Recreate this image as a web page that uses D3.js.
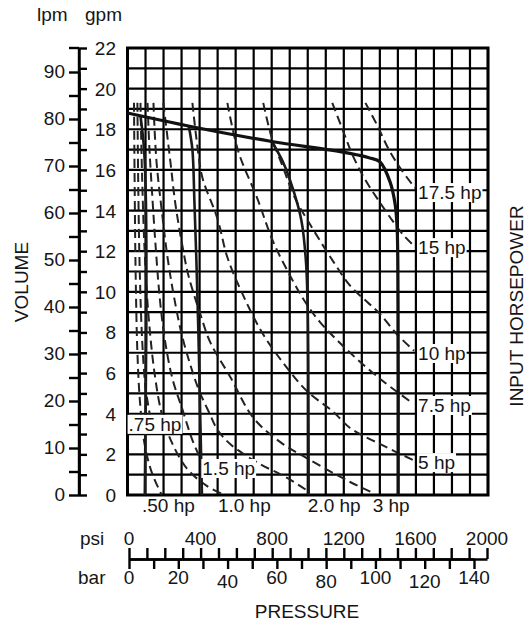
<!DOCTYPE html>
<html><head><meta charset="utf-8">
<script src="https://cdn.jsdelivr.net/npm/d3@7"></script>
<style>
body{margin:0;background:#fff}
svg{display:block}
text{font-family:"Liberation Sans",Arial,Helvetica,sans-serif;fill:#151515}
</style>
</head><body>
<svg id="chart" width="525" height="621"></svg>
<script>
// ---------- axis ticks / labels ----------
const psiTicks = d3.range(0, 2001, 100);
const psiLabels = [0, 400, 800, 1200, 1600, 2000];
const barTicks = d3.range(0, 141, 10);
const barLabels = [0, 20, 40, 60, 80, 100, 120, 140];
const gpmTicks = d3.range(0, 23, 1);
const gpmLabels = d3.range(0, 23, 2);
const lpmTicks = d3.range(0, 91, 5);
const lpmLabels = d3.range(0, 91, 10);

// ---------- solid pump curves [psi, gpm] ----------
const pumpFlow = [[0,18.8],[400,18.05],[800,17.4],[1180,16.9],[1340,16.6],[1400,16.4],[1457,15.4],[1485,14.3],[1496,13.1],[1501,9.6],[1502,0]];
const relief100 = [[72,18.7],[92,17],[102,14.5],[105,9.6],[101,4.7],[96,0]];
const relief400 = [[340,18.15],[360,17],[371,14.5],[382,11.6],[393,8.1],[404,3.7],[413,0]];
const relief1000 = [[800,17.4],[862,16.4],[920,15],[965,13.5],[990,11.5],[1000,9],[1004,4],[1005,0]];

// ---------- dashed input horsepower curves [psi, gpm] ----------
const hp050 = [[36,19.3],[40,15],[45,11],[55,7],[70,4.5],[95,2.5],[135,1.1],[190,0]];
const hp075 = [[55,19.3],[60,15],[68,11],[82,7.5],[100,5.3],[125,3.9]];
const hp100 = [[72,19.3],[80,16],[95,12],[115,9],[150,6],[190,4],[240,2.7],[330,1.3],[440,0.45],[540,0]];
const hp150 = [[111,19.3],[122,17],[139,14.5],[158,12],[180,9.6],[208,7.6],[250,5.7],[305,4.2],[360,2.7],[404,1.8]];
const hp200 = [[144,19.3],[160,16.5],[190,14],[222,11.7],[257,9.8],[301,7.9],[354,6.25],[399,5.1],[456,4.0],[500,3.2],[571,2.5],[720,1.6],[886,0.84],[1000,0.2]];
const hp300 = [[199,19.3],[238,16.4],[266,14.3],[310,12.0],[338,10.8],[404,8.9],[460,7.5],[571,5.8],[698,3.8],[848,2.6],[997,1.8],[1235,0.64],[1363,0.1]];
const hp500 = [[360,19.3],[390,17.0],[416,15.6],[499,13.6],[554,11.7],[643,9.8],[753,7.9],[886,6.25],[997,5.1],[1141,4.1],[1235,3.3],[1402,2.5],[1590,1.7]];
const hp750 = [[554,19.3],[615,16.9],[720,14.6],[809,12.45],[920,10.5],[986,9.5],[1069,8.5],[1235,7.0],[1418,5.6],[1585,4.5]];
const hp1000 = [[753,19.3],[800,17.6],[864,16.1],[930,14.6],[1014,13.3],[1141,11.5],[1235,10.3],[1330,9.5],[1402,8.9],[1496,7.9],[1590,7.1]];
const hp1500 = [[1136,19.3],[1197,17.9],[1250,16.7],[1320,15.5],[1400,14.4],[1470,13.5],[1530,12.8],[1585,12.3]];
const hp1750 = [[1320,19.3],[1385,18.2],[1450,17.0],[1520,16.0],[1596,15.1]];

// ---------- horsepower labels (anchor in data units) ----------
const hpLabelText = [".50 hp", ".75 hp", "1.0 hp", "1.5 hp", "2.0 hp", "3 hp", "5 hp", "7.5 hp", "10 hp", "15 hp", "17.5 hp"];
const hpLabelPsi  = [227, 6, 648, 415, 1147, 1463, 1612, 1612, 1612, 1612, 1612];
const hpLabelGpm  = [-0.5, 3.5, -0.5, 1.33, -0.5, -0.5, 1.62, 4.43, 6.99, 12.2, 14.91];

const svg = d3.select("#chart");
const FS = 19;

// scales
const x = d3.scaleLinear().domain([0, 2000]).range([127.5, 488]);
const y = d3.scaleLinear().domain([0, 22]).range([495, 48]);
const yl = d3.scaleLinear().domain([0, 90]).range([495, 72]);
const xPsi = d3.scaleLinear().domain([0, 2000]).range([129, 487]);
const xBar = d3.scaleLinear().domain([0, 140]).range([129, 474]);

// ---------- grid ----------
const grid = svg.append("g");
grid.selectAll("line.v").data(psiTicks).join("line")
  .attr("x1", d => x(d)).attr("x2", d => x(d))
  .attr("y1", y(0)).attr("y2", y(22))
  .attr("stroke", "#000").attr("stroke-width", 2.2);
grid.selectAll("line.h").data(gpmTicks).join("line").attr("class","h")
  .attr("x1", x(0)).attr("x2", x(2000))
  .attr("y1", d => y(d)).attr("y2", d => y(d))
  .attr("stroke", "#000").attr("stroke-width", 2.2);
grid.append("rect")
  .attr("x", x(0)).attr("y", y(22))
  .attr("width", x(2000) - x(0)).attr("height", y(0) - y(22))
  .attr("fill", "none").attr("stroke", "#000").attr("stroke-width", 3);

// ---------- curves ----------
const line = d3.line().x(d => x(d[0])).y(d => y(d[1])).curve(d3.curveCatmullRom.alpha(0.5));
const curves = svg.append("g");

[hp050, hp075, hp100, hp150, hp200, hp300, hp500, hp750, hp1000, hp1500, hp1750].forEach(c => {
  curves.append("path").attr("d", line(c))
    .attr("fill", "none").attr("stroke", "#222")
    .attr("stroke-width", 2).attr("stroke-dasharray", "9,5");
});
[relief100, relief400, relief1000].forEach(c => {
  curves.append("path").attr("d", line(c))
    .attr("fill", "none").attr("stroke", "#1a1a1a").attr("stroke-width", 2.6);
});
curves.append("path").attr("d", line(pumpFlow))
  .attr("fill", "none").attr("stroke", "#111").attr("stroke-width", 3.2);

// ---------- hp labels ----------
const lab = svg.append("g");
hpLabelText.forEach((t, i) => {
  const px = x(hpLabelPsi[i]), py = y(hpLabelGpm[i]);
  const below = hpLabelGpm[i] < 0;
  const g = lab.append("g");
  const tx = g.append("text")
    .attr("x", px).attr("y", py + 7)
    .attr("font-size", FS)
    .attr("text-anchor", below ? "middle" : "start")
    .text(t);
  const bb = tx.node().getBBox();
  if (!below) {
    g.insert("rect", "text")
      .attr("x", bb.x - 1).attr("y", bb.y + 1)
      .attr("width", bb.width + 2).attr("height", bb.height - 2)
      .attr("fill", "#fff");
  }
});

// ---------- vertical axes ----------
const ax = svg.append("g");
ax.append("g").attr("transform", "translate(79,0)")
  .call(d3.axisRight(y).tickValues(gpmTicks).tickSize(8).tickSizeOuter(0).tickFormat(""));
ax.append("g").attr("transform", "translate(79,0)")
  .call(d3.axisLeft(yl).tickValues(lpmTicks).tickSize(10).tickSizeOuter(0).tickFormat(""));
ax.append("line").attr("x1", 79).attr("x2", 79).attr("y1", y(22)).attr("y2", y(0))
  .attr("stroke", "#000").attr("stroke-width", 2.4);
ax.append("line").attr("x1", 69).attr("x2", 79).attr("y1", y(22)).attr("y2", y(22))
  .attr("stroke", "#000").attr("stroke-width", 2.4);

ax.selectAll("g.tick text").remove();
ax.selectAll("line,path").attr("stroke", "#000").attr("stroke-width", 2.4);

ax.selectAll("text.gpm").data(gpmLabels).join("text").attr("class","gpm")
  .attr("x", 116).attr("y", d => y(d) + 7)
  .attr("text-anchor", "end").attr("font-size", FS).text(d => d);
ax.selectAll("text.lpm").data(lpmLabels).join("text").attr("class","lpm")
  .attr("x", 65).attr("y", d => yl(d) + 6)
  .attr("text-anchor", "end").attr("font-size", FS).text(d => d);

svg.append("text").attr("x", 37).attr("y", 21).attr("font-size", FS).text("lpm");
svg.append("text").attr("x", 85).attr("y", 21).attr("font-size", FS).text("gpm");
svg.append("text").attr("transform", "translate(28,282) rotate(-90)")
  .attr("text-anchor", "middle").attr("font-size", FS).text("VOLUME");
svg.append("text").attr("transform", "translate(522.5,306) rotate(-90)")
  .attr("text-anchor", "middle").attr("font-size", FS).text("INPUT HORSEPOWER");

// ---------- pressure axes ----------
const px = svg.append("g");
px.append("g").attr("transform", "translate(0,559)")
  .call(d3.axisTop(xPsi).tickValues(psiTicks).tickSize(11).tickSizeOuter(0).tickFormat(""));
px.append("g").attr("transform", "translate(0,559)")
  .call(d3.axisBottom(xBar).tickValues(barTicks).tickSize(10).tickSizeOuter(0).tickFormat(""));
px.selectAll("g.tick text").remove();
px.selectAll("line,path").attr("stroke", "#000").attr("stroke-width", 2.4);

px.selectAll("text.psi").data(psiLabels).join("text").attr("class","psi")
  .attr("x", d => xPsi(d)).attr("y", 545)
  .attr("text-anchor", "middle").attr("font-size", FS).text(d => d);
px.selectAll("text.bar").data(barLabels).join("text").attr("class","bar")
  .attr("x", d => xBar(d)).attr("y", (d, i) => (i % 2 === 0 && i > 0) ? 588 : 584)
  .attr("text-anchor", "middle").attr("font-size", FS).text(d => d);

svg.append("text").attr("x", 80).attr("y", 545).attr("font-size", FS).text("psi");
svg.append("text").attr("x", 78).attr("y", 584).attr("font-size", FS).text("bar");
svg.append("text").attr("x", 307).attr("y", 618).attr("text-anchor", "middle")
  .attr("font-size", FS).text("PRESSURE");
</script>
</body></html>
